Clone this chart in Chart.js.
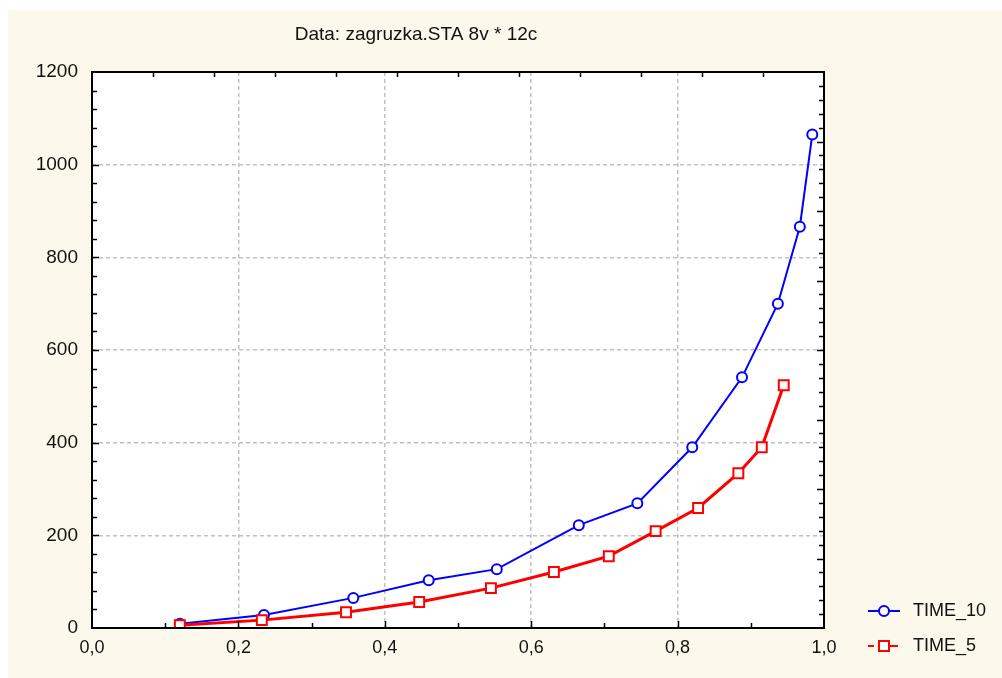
<!DOCTYPE html>
<html>
<head>
<meta charset="utf-8">
<title>TIME_10 / TIME_5</title>
<script src="https://cdn.jsdelivr.net/npm/chart.js@4.4.1/dist/chart.umd.min.js"></script>
<style>
  html, body { margin: 0; padding: 0; background: #ffffff; }
  canvas { display: block; }
</style>
</head>
<body>
<canvas id="grafico" width="1002" height="678"></canvas>
<script>
// dane z arkusza zagruzka.STA (12 przypadkow)
var time10X = [0.120, 0.235, 0.357, 0.460, 0.553, 0.665, 0.745, 0.820, 0.888, 0.937, 0.967, 0.984];
var time10Y = [9, 28, 65, 103, 127, 222, 269, 390, 541, 700, 866, 1065];
var time5X = [0.120, 0.232, 0.347, 0.447, 0.545, 0.631, 0.706, 0.770, 0.828, 0.883, 0.915, 0.945];
var time5Y = [6, 17, 34, 56, 86, 121, 155, 209, 259, 334, 390, 524];

var seriesNames = ['TIME_10', 'TIME_5'];
var chartTitle = 'Data: zagruzka.STA 8v * 12c';

var FONT = '"Liberation Sans", Arial, sans-serif';
var CREAM = '#fdf8ec';

function punkty(xs, ys) {
    return xs.map(function(x, i) { return { x: x, y: ys[i] }; });
}

// tlo, ramka, znaczniki osi, tytul i legenda
var ramka = {
    id: 'ramka',
    beforeDraw: function(chart) {
        var ctx = chart.ctx, a = chart.chartArea;
        ctx.save();
        ctx.fillStyle = '#ffffff';
        ctx.fillRect(0, 0, chart.width, chart.height);
        ctx.fillStyle = CREAM;
        ctx.fillRect(8, 10, chart.width - 8, chart.height - 10);
        ctx.fillStyle = '#ffffff';
        ctx.fillRect(a.left, a.top, a.right - a.left, a.bottom - a.top);
        ctx.restore();
    },
    afterDraw: function(chart) {
        var ctx = chart.ctx, a = chart.chartArea;
        var sx = chart.scales.x, sy = chart.scales.y;
        var i, v, p, len;
        ctx.save();
        ctx.strokeStyle = '#000000';
        ctx.lineWidth = 1.5;
        ctx.beginPath();
        // dol: co 0.1
        for (i = 1; i < 10; i++) {
            p = Math.round(sx.getPixelForValue(i / 10)) + 0.5;
            len = (i % 2 === 0) ? 7 : 5;
            ctx.moveTo(p, a.bottom); ctx.lineTo(p, a.bottom - len);
        }
        // gora: co 1/12
        for (i = 1; i < 12; i++) {
            p = Math.round(sx.getPixelForValue(i / 12)) + 0.5;
            ctx.moveTo(p, a.top); ctx.lineTo(p, a.top + 5);
        }
        // lewa: co 40
        for (i = 1; i < 30; i++) {
            v = i * 40;
            p = Math.round(sy.getPixelForValue(v)) + 0.5;
            len = (i % 5 === 0) ? 7 : 5;
            ctx.moveTo(a.left, p); ctx.lineTo(a.left + len, p);
        }
        // prawa: co 30
        for (i = 1; i < 40; i++) {
            v = i * 30;
            p = Math.round(sy.getPixelForValue(v)) + 0.5;
            len = (i % 5 === 0) ? 7 : 5;
            ctx.moveTo(a.right, p); ctx.lineTo(a.right - len, p);
        }
        ctx.stroke();

        ctx.lineWidth = 2;
        ctx.strokeRect(a.left, a.top, a.right - a.left, a.bottom - a.top);

        // tytul
        ctx.fillStyle = '#111111';
        ctx.font = '19px ' + FONT;
        ctx.textAlign = 'center';
        ctx.textBaseline = 'middle';
        ctx.fillText(chartTitle, 416, 35);

        // legenda
        var ly = [611, 646];
        chart.data.datasets.forEach(function(ds, k) {
            var y = ly[k];
            ctx.strokeStyle = ds.borderColor;
            ctx.lineWidth = 2;
            ctx.beginPath();
            if (ds.pointStyle === 'rect') {
                ctx.moveTo(868, y); ctx.lineTo(874, y);
                ctx.moveTo(890, y); ctx.lineTo(898, y);
            } else {
                ctx.moveTo(868, y); ctx.lineTo(900, y);
            }
            ctx.stroke();
            ctx.fillStyle = '#ffffff';
            ctx.beginPath();
            if (ds.pointStyle === 'rect') {
                ctx.rect(879, y - 5, 10, 10);
            } else {
                ctx.arc(884, y, 5, 0, Math.PI * 2);
            }
            ctx.fill();
            ctx.stroke();
            ctx.fillStyle = '#111111';
            ctx.font = '18px ' + FONT;
            ctx.textAlign = 'left';
            ctx.fillText(ds.label, 913, y);
        });
        ctx.restore();
    }
};

var siatka = function(ctx) {
    var t = ctx.tick;
    if (!t || ctx.index === 0 || ctx.index === ctx.scale.ticks.length - 1) return 'rgba(0,0,0,0)';
    return '#c2c2c2';
};

var canvas = document.getElementById('grafico').getContext('2d');
window.wykres = new Chart(canvas, {
    type: 'line',
    data: {
        datasets: [{
            label: seriesNames[0],
            data: punkty(time10X, time10Y),
            borderColor: '#0000ff',
            backgroundColor: '#ffffff',
            borderWidth: 2,
            pointStyle: 'circle',
            pointRadius: 5,
            pointBorderWidth: 2,
            pointBackgroundColor: '#ffffff',
            tension: 0,
            order: 1
        }, {
            label: seriesNames[1],
            data: punkty(time5X, time5Y),
            borderColor: '#ff0000',
            backgroundColor: '#ffffff',
            borderWidth: 3,
            pointStyle: 'rect',
            pointRadius: 7,
            pointBorderWidth: 2,
            pointBackgroundColor: '#ffffff',
            tension: 0,
            order: 0
        }]
    },
    options: {
        responsive: false,
        animation: false,
        layout: { padding: { left: 22, right: 178, top: 72, bottom: 20 } },
        plugins: {
            legend: { display: false },
            title: { display: false },
            tooltip: { enabled: false }
        },
        scales: {
            x: {
                type: 'linear',
                min: 0,
                max: 1,
                afterFit: function(s) { s.height = 30; },
                ticks: {
                    stepSize: 0.2,
                    padding: 9,
                    color: '#111111',
                    font: { family: FONT, size: 18 },
                    maxRotation: 0,
                    callback: function(v) { return v.toFixed(1).replace('.', ','); }
                },
                grid: { color: siatka, lineWidth: 1.5, drawTicks: false },
                border: { display: false, dash: [4, 3] }
            },
            y: {
                min: 0,
                max: 1200,
                afterFit: function(s) { s.width = 70; },
                ticks: {
                    stepSize: 200,
                    padding: 14,
                    color: '#111111',
                    font: { family: FONT, size: 19 },
                    callback: function(v) { return String(v); }
                },
                grid: { color: siatka, lineWidth: 1.5, drawTicks: false },
                border: { display: false, dash: [4, 3] }
            }
        }
    },
    plugins: [ramka]
});
</script>
</body>
</html>
